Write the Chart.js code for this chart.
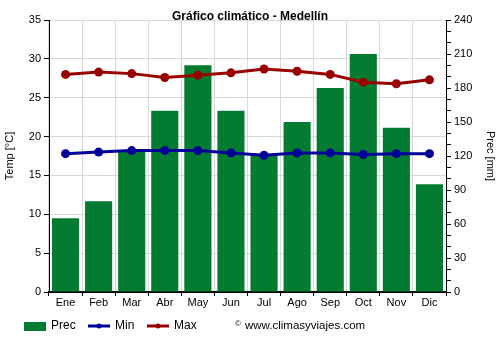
<!DOCTYPE html>
<html>
<head>
<meta charset="utf-8">
<script src="https://cdn.jsdelivr.net/npm/chart.js@4/dist/chart.umd.min.js"></script>
<style>
  html, body { margin: 0; padding: 0; background: #fff; }
  #wrap { width: 500px; height: 350px; position: relative; }
</style>
</head>
<body>
<div id="wrap"><canvas id="c" width="500" height="350"></canvas></div>
<script>
// Monthly climate data for Medellín
const months = ['Ene', 'Feb', 'Mar', 'Abr', 'May', 'Jun', 'Jul', 'Ago', 'Sep', 'Oct', 'Nov', 'Dic'];
const precip = [65, 80, 125, 160, 200, 160, 120, 150, 180, 210, 145, 95];
const tempMin = [17.8, 18.0, 18.2, 18.2, 18.2, 17.9, 17.6, 17.9, 17.9, 17.7, 17.8, 17.8];
const tempMax = [28.0, 28.3, 28.1, 27.6, 27.9, 28.2, 28.7, 28.4, 28.0, 27.0, 26.8, 27.3];

const titleText = 'Gráfico climático - Medellín';
const creditText = 'www.climasyviajes.com';

const GREEN = '#037b30';
const BLUE = '#000099';
const RED = '#990000';
const GRID = '#d9d9d9';
const FONT = 'Liberation Sans, Arial, sans-serif';

// Title, legend and credit line drawn on top of the chart
const decorations = {
  id: 'decorations',
  afterDraw(chart) {
    const ctx = chart.ctx;
    ctx.save();
    ctx.fillStyle = '#000';
    ctx.font = 'bold 12px ' + FONT;
    ctx.textAlign = 'center';
    ctx.textBaseline = 'middle';
    ctx.fillText(titleText, 250, 17);

    const ly = 326;
    ctx.textAlign = 'left';
    ctx.font = '12px ' + FONT;
    // Prec
    ctx.fillStyle = GREEN;
    ctx.fillRect(24, 322, 22, 9);
    ctx.fillStyle = '#000';
    ctx.fillText('Prec', 51, ly);
    // Min
    ctx.strokeStyle = BLUE; ctx.lineWidth = 3;
    ctx.beginPath(); ctx.moveTo(88, ly); ctx.lineTo(110, ly); ctx.stroke();
    ctx.fillStyle = BLUE;
    ctx.beginPath(); ctx.arc(99, ly, 2.5, 0, Math.PI * 2); ctx.fill();
    ctx.fillStyle = '#000';
    ctx.fillText('Min', 115, ly);
    // Max
    ctx.strokeStyle = RED;
    ctx.beginPath(); ctx.moveTo(147, ly); ctx.lineTo(169, ly); ctx.stroke();
    ctx.fillStyle = RED;
    ctx.beginPath(); ctx.arc(158, ly, 2.5, 0, Math.PI * 2); ctx.fill();
    ctx.fillStyle = '#000';
    ctx.fillText('Max', 174, ly);
    // Credit
    ctx.font = '8px ' + FONT;
    ctx.fillText('©', 235, ly - 2);
    ctx.font = '11.5px ' + FONT;
    ctx.fillText(creditText, 245, ly);
    ctx.restore();
  }
};

new Chart(document.getElementById('c'), {
  data: {
    labels: months,
    datasets: [
      {
        type: 'line', label: 'Max', data: tempMax, yAxisID: 'y',
        borderColor: RED, backgroundColor: RED, borderWidth: 3,
        pointRadius: 4.5, pointBackgroundColor: RED, pointBorderWidth: 0,
        tension: 0, order: 0
      },
      {
        type: 'line', label: 'Min', data: tempMin, yAxisID: 'y',
        borderColor: BLUE, backgroundColor: BLUE, borderWidth: 3,
        pointRadius: 4.5, pointBackgroundColor: BLUE, pointBorderWidth: 0,
        tension: 0, order: 1
      },
      {
        type: 'bar', label: 'Prec', data: precip, yAxisID: 'y2',
        backgroundColor: GREEN, borderWidth: 0,
        categoryPercentage: 1, barPercentage: 0.82, order: 2
      }
    ]
  },
  options: {
    responsive: false,
    animation: false,
    layout: { padding: { top: 20, left: 0, right: 0, bottom: 0 } },
    plugins: { legend: { display: false }, title: { display: false }, tooltip: { enabled: false } },
    scales: {
      x: {
        afterFit(s) { s.height = 58; },
        grid: { color: GRID, tickColor: '#000', tickLength: 4, offset: true },
        border: { color: '#000', width: 2 },
        ticks: { color: '#000', font: { family: FONT, size: 11 }, padding: 0, maxRotation: 0 }
      },
      y: {
        position: 'left', min: 0, max: 35,
        afterFit(s) { s.width = 49; },
        grid: { color: GRID, tickColor: '#000', tickLength: 5 },
        border: { color: '#000', width: 1 },
        ticks: { stepSize: 5, color: '#000', font: { family: FONT, size: 11 }, padding: 3 },
        title: { display: true, text: 'Temp [°C]', color: '#000', font: { family: FONT, size: 11 }, padding: { top: 3, bottom: 2 } }
      },
      y2: {
        position: 'right', min: 0, max: 240,
        afterFit(s) { s.width = 54; },
        grid: { drawOnChartArea: false, tickColor: '#000', tickLength: 5 },
        border: { color: '#000', width: 1 },
        ticks: {
          stepSize: 10, autoSkip: false, color: '#000', font: { family: FONT, size: 11 }, padding: 3,
          callback: v => (v % 30 === 0 ? String(v) : '')
        },
        title: { display: true, text: 'Prec [mm]', color: '#000', font: { family: FONT, size: 11 }, padding: { top: 3, bottom: 2 } }
      }
    }
  },
  plugins: [decorations]
});
</script>
</body>
</html>
